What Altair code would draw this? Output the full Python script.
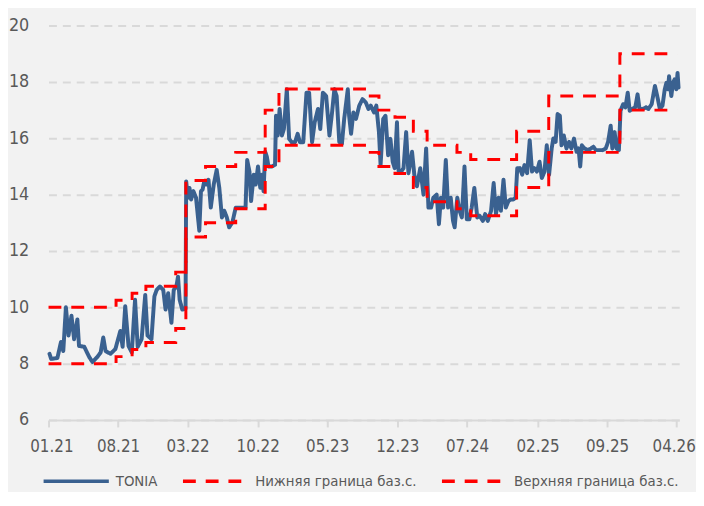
import altair as alt
import pandas as pd

# ---- TONIA ----
tonia_dates = [
    "2021-01-04", "2021-01-09", "2021-01-28", "2021-02-08", "2021-02-15", "2021-02-23", "2021-03-03", "2021-03-12",
    "2021-03-20", "2021-03-30", "2021-04-04", "2021-04-20", "2021-05-05", "2021-05-15", "2021-05-30", "2021-06-09",
    "2021-06-17", "2021-06-24", "2021-07-09", "2021-07-24", "2021-08-08", "2021-08-15", "2021-08-23", "2021-09-02",
    "2021-09-12", "2021-09-22", "2021-09-30", "2021-10-12", "2021-10-23", "2021-10-30", "2021-11-11", "2021-11-20",
    "2021-11-27", "2021-12-07", "2021-12-17", "2021-12-24", "2022-01-01", "2022-01-11", "2022-01-18", "2022-01-26",
    "2022-01-31", "2022-02-05", "2022-02-13", "2022-02-23", "2022-02-25", "2022-03-02", "2022-03-07", "2022-03-12",
    "2022-03-19", "2022-03-27", "2022-04-06", "2022-04-11", "2022-04-16", "2022-04-21", "2022-04-28", "2022-05-04",
    "2022-05-11", "2022-05-20", "2022-05-29", "2022-06-06", "2022-06-14", "2022-06-21", "2022-06-29", "2022-07-06",
    "2022-07-16", "2022-07-26", "2022-08-10", "2022-08-25", "2022-08-30", "2022-09-06", "2022-09-11", "2022-09-19",
    "2022-09-25", "2022-10-02", "2022-10-09", "2022-10-14", "2022-10-19", "2022-10-24", "2022-10-29", "2022-11-03",
    "2022-11-13", "2022-11-23", "2022-11-26", "2022-12-01", "2022-12-07", "2022-12-14", "2022-12-20", "2022-12-29",
    "2023-01-05", "2023-01-13", "2023-01-23", "2023-01-31", "2023-02-07", "2023-02-17", "2023-02-27", "2023-03-07",
    "2023-03-16", "2023-03-24", "2023-04-03", "2023-04-10", "2023-04-18", "2023-04-28", "2023-05-08", "2023-05-16",
    "2023-05-23", "2023-05-30", "2023-06-07", "2023-06-15", "2023-06-22", "2023-07-03", "2023-07-07", "2023-07-13",
    "2023-07-20", "2023-07-28", "2023-08-07", "2023-08-17", "2023-08-27", "2023-09-04", "2023-09-11", "2023-09-21",
    "2023-09-28", "2023-10-06", "2023-10-11", "2023-10-19", "2023-10-26", "2023-11-03", "2023-11-10", "2023-11-17",
    "2023-11-23", "2023-11-30", "2023-12-05", "2023-12-13", "2023-12-20", "2023-12-28", "2024-01-04", "2024-01-15",
    "2024-01-22", "2024-01-30", "2024-02-09", "2024-02-19", "2024-02-27", "2024-03-05", "2024-03-13", "2024-03-20",
    "2024-03-30", "2024-04-06", "2024-04-12", "2024-04-19", "2024-04-27", "2024-05-04", "2024-05-12", "2024-05-19",
    "2024-05-24", "2024-06-01", "2024-06-08", "2024-06-15", "2024-06-23", "2024-06-30", "2024-07-08", "2024-07-15",
    "2024-07-23", "2024-08-01", "2024-08-08", "2024-08-18", "2024-08-25", "2024-09-02", "2024-09-12", "2024-09-20",
    "2024-09-27", "2024-10-05", "2024-10-12", "2024-10-20", "2024-10-27", "2024-11-04", "2024-11-11", "2024-11-19",
    "2024-11-26", "2024-12-01", "2024-12-09", "2024-12-16", "2024-12-23", "2024-12-31", "2025-01-08", "2025-01-15",
    "2025-01-22", "2025-01-30", "2025-02-07", "2025-02-14", "2025-02-22", "2025-03-01", "2025-03-08", "2025-03-16",
    "2025-03-21", "2025-03-28", "2025-04-03", "2025-04-10", "2025-04-15", "2025-04-22", "2025-04-30", "2025-05-08",
    "2025-05-15", "2025-05-23", "2025-05-31", "2025-06-06", "2025-06-11", "2025-06-16", "2025-06-24", "2025-07-04",
    "2025-07-14", "2025-07-21", "2025-07-29", "2025-08-08", "2025-08-18", "2025-08-28", "2025-09-04", "2025-09-12",
    "2025-09-17", "2025-09-24", "2025-09-30", "2025-10-07", "2025-10-12", "2025-10-20", "2025-10-27", "2025-11-03",
    "2025-11-09", "2025-11-16", "2025-11-26", "2025-12-03", "2025-12-09", "2025-12-19", "2025-12-29", "2026-01-05",
    "2026-01-15", "2026-01-25", "2026-02-01", "2026-02-09", "2026-02-17", "2026-02-24", "2026-03-01", "2026-03-06",
    "2026-03-09", "2026-03-16", "2026-03-21", "2026-03-26", "2026-03-31", "2026-04-04", "2026-04-07",
]
tonia_values = [
    8.35, 8.17, 8.2, 8.77, 8.45, 10.0, 9.0, 9.7,
    8.87, 9.57, 8.63, 8.6, 8.24, 8.06, 8.24, 8.4,
    8.93, 8.45, 8.35, 8.52, 9.16, 8.6, 10.04, 8.63,
    8.4, 10.27, 8.6, 8.87, 10.44, 9.0, 8.87, 10.39,
    10.62, 10.74, 10.62, 9.92, 10.5, 9.45, 10.62, 10.74,
    11.09, 10.27, 9.92, 9.95, 14.47, 13.89, 14.24, 13.83,
    14.12, 13.89, 12.72, 14.12, 14.18, 14.47, 14.36, 14.53,
    13.54, 14.36, 14.88, 14.24, 13.19, 13.43, 13.19, 12.84,
    13.02, 13.54, 13.54, 13.54, 15.23, 14.82, 13.77, 14.71,
    14.36, 15.0, 14.24, 14.71, 14.12, 15.52, 15.35, 15.0,
    15.0, 15.06, 16.8, 16.1, 17.04, 16.1, 16.33, 17.74,
    15.98, 15.86, 15.86, 16.16, 15.86, 15.86, 17.62, 17.62,
    15.86, 16.57, 17.04, 16.33, 17.62, 17.5, 16.1, 16.92,
    17.74, 17.5, 15.87, 15.8, 16.69, 17.74, 16.8, 16.16,
    16.92, 16.69, 17.16, 17.39, 17.27, 17.04, 17.16, 16.92,
    17.16, 16.22, 15.05, 16.69, 16.8, 15.4, 15.98, 15.17,
    14.94, 16.57, 14.82, 14.82, 14.94, 16.22, 14.76, 15.52,
    14.7, 14.3, 14.94, 14.0, 15.64, 13.54, 13.54, 13.89,
    14.0, 12.95, 13.89, 13.54, 15.23, 13.54, 13.89, 13.07,
    12.84, 13.89, 13.43, 13.19, 15.0, 13.13, 13.13, 13.54,
    14.24, 13.19, 13.25, 13.07, 13.31, 13.07, 13.42, 14.41,
    13.31, 13.89, 13.43, 14.53, 13.54, 13.77, 13.83, 13.83,
    13.89, 14.94, 14.94, 14.71, 15.05, 14.76, 15.93, 14.82,
    14.94, 14.82, 15.17, 14.59, 14.82, 15.75, 14.7, 15.64,
    15.99, 15.87, 16.86, 16.8, 15.75, 16.1, 15.64, 15.87,
    15.64, 15.99, 15.52, 15.64, 15.0, 15.75, 15.64, 15.58,
    15.64, 15.7, 15.58, 15.58, 15.58, 15.64, 15.87, 16.45,
    15.64, 16.22, 15.64, 15.58, 16.98, 17.21, 17.1, 17.62,
    16.98, 17.04, 17.1, 17.56, 17.04, 17.04, 17.1, 17.04,
    17.21, 17.86, 17.5, 17.04, 17.16, 17.74, 17.97, 17.74,
    18.2, 17.5, 17.97, 18.09, 17.74, 18.32, 17.8,
]

# ---- base-rate corridor (step changes) ----
corridor_dates = [
    "2021-01-01", "2021-07-26", "2021-09-13", "2021-10-25", "2022-01-24", "2022-02-24", "2022-04-25",
    "2022-07-26", "2022-10-24", "2022-12-05", "2023-08-28", "2023-10-06", "2023-11-24", "2024-01-19",
    "2024-03-01", "2024-05-31", "2024-07-12", "2024-11-29", "2025-03-07", "2025-10-10", "2026-04-03",
]
lower_bound = [8.0, 8.25, 8.5, 8.75, 9.25, 12.5, 13.0, 13.5, 15.0, 15.75, 15.5, 15.0, 14.75, 14.25,
               13.75, 13.5, 13.25, 14.25, 15.5, 17.0, 17.0]
upper_bound = [10.0, 10.25, 10.5, 10.75, 11.25, 14.5, 15.0, 15.5, 17.0, 17.75, 17.5, 17.0, 16.75, 16.25,
               15.75, 15.5, 15.25, 16.25, 17.5, 19.0, 19.0]

series_names = ["TONIA", "Нижняя граница баз.с.", "Верхняя граница баз.с."]
series_colors = ["#3A6190", "#FF0000", "#FF0000"]
series_dashes = [[1, 0], [13, 10], [13, 10]]

tick_months = [(2021, 1), (2021, 8), (2022, 3), (2022, 10), (2023, 5), (2023, 12),
               (2024, 7), (2025, 2), (2025, 9), (2026, 4)]
y_ticks = [6, 8, 10, 12, 14, 16, 18, 20]

FONT = "DejaVu Sans Condensed, Roboto, sans-serif"
GREY_TXT = "#595959"
GRID = "#D9D9D9"

tonia_df = pd.DataFrame({"date": tonia_dates, "value": tonia_values, "series": series_names[0]})
corr_df = pd.concat([
    pd.DataFrame({"date": corridor_dates, "value": lower_bound, "series": series_names[1]}),
    pd.DataFrame({"date": corridor_dates, "value": upper_bound, "series": series_names[2]}),
], ignore_index=True)

x_enc = alt.X(
    "date:T",
    title=None,
    scale=alt.Scale(type="utc", domain=[alt.DateTime(year=2021, month=1, date=1, utc=True),
                                        alt.DateTime(year=2026, month=4, date=9, utc=True)]),
    axis=alt.Axis(
        values=[alt.DateTime(year=y, month=m, date=1, utc=True) for y, m in tick_months],
        labelExpr="utcFormat(datum.value, '%m.%y')", labelOverlap=False,
        labelFlush=5, labelFlushOffset=19, labelBound=False, grid=False,
        domainColor=GRID, domainWidth=2, tickColor=GRID, tickWidth=2, tickSize=7,
        labelPadding=12, labelFontSize=17, labelColor=GREY_TXT, labelFont=FONT,
    ),
)
y_enc = alt.Y(
    "value:Q",
    title=None,
    scale=alt.Scale(domain=[6, 20], nice=False, zero=False),
    axis=alt.Axis(
        values=y_ticks, domain=False, ticks=False, tickSize=0, labelPadding=20,
        labelFontSize=18, labelColor=GREY_TXT, labelFont=FONT,
        grid=True, gridColor=GRID, gridDash=[8, 6], gridWidth=2,
    ),
)
legend = alt.Legend(
    title=None, orient="none", direction="horizontal", legendX=-7, legendY=426,
    symbolType="stroke", symbolSize=4356, symbolStrokeWidth=3.5,
    labelFontSize=15, labelColor=GREY_TXT, labelFont=FONT, labelOffset=5, labelLimit=400,
    columnPadding=18,
)
color_enc = alt.Color("series:N", scale=alt.Scale(domain=series_names, range=series_colors), legend=legend)
dash_enc = alt.StrokeDash("series:N", scale=alt.Scale(domain=series_names, range=series_dashes), legend=legend)

tonia_line = alt.Chart(tonia_df).mark_line(strokeWidth=4, strokeJoin="round", strokeCap="round").encode(
    x=x_enc, y=y_enc, color=color_enc, strokeDash=dash_enc,
)
corr_line = alt.Chart(corr_df).mark_line(strokeWidth=3, interpolate="step-after").encode(
    x=x_enc, y=y_enc, color=color_enc, strokeDash=dash_enc, detail="series:N",
)

chart = alt.layer(tonia_line, corr_line).properties(
    width=638, height=399,
    autosize=alt.AutoSizeParams(type="none"),
    padding={"left": 41, "top": 15, "right": 17, "bottom": 70},
    background="#F2F2F2",
).configure_view(stroke=None)

chart.save("out.html", embed_options={"renderer": "svg", "actions": False})
